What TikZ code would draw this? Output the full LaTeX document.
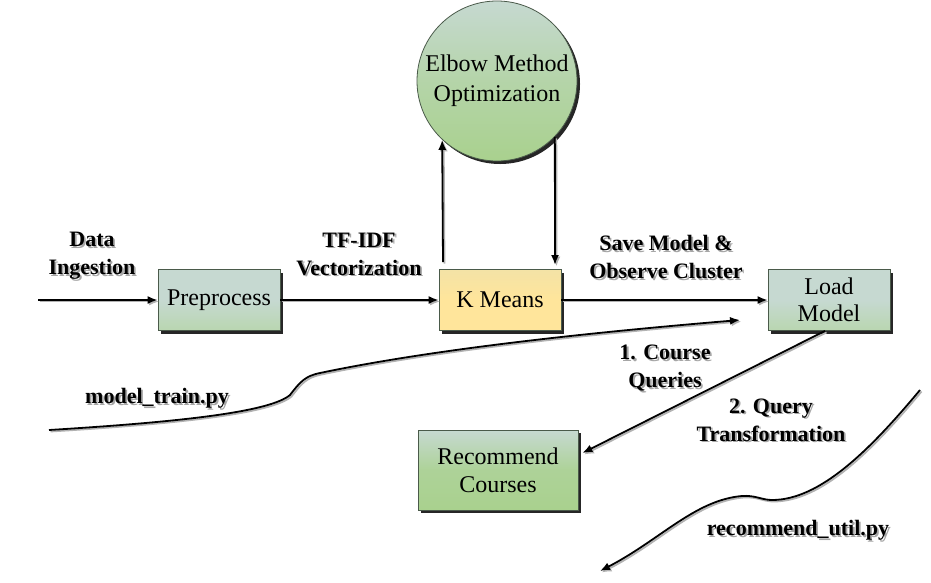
\documentclass[tikz,border=0pt]{standalone}
\usepackage{fontspec}
\setmainfont{Liberation Serif}
\usetikzlibrary{shadows,arrows.meta,shapes.geometric}
\definecolor{boxtop}{HTML}{C6D9D1}
\definecolor{boxbot}{HTML}{B9D6B0}
\definecolor{grn}{HTML}{A9D18E}
\definecolor{yel}{HTML}{FFE59B}
\definecolor{edge}{HTML}{4A5A4A}
\tikzset{
  shad/.style={drop shadow={shadow xshift=3pt,shadow yshift=-3pt,fill=black!85,opacity=1}},
  box/.style={rectangle,draw=edge,line width=0.8pt,minimum width=122pt,minimum height=61pt,
     align=center,font=\fontsize{24}{29}\selectfont,inner sep=2pt,shad},
  lbl/.style={align=center,font=\fontsize{22}{28}\selectfont\bfseries,inner sep=0pt},
  lblsh/.style={lbl,text=black!35},
  lshadow/.style={preaction={draw=black!30,line width=1.8pt,transform canvas={shift={(1.5pt,-1.5pt)}}}},
  arr/.style={line width=1.8pt,-{Latex[length=10pt,width=8pt]},lshadow},
  ln/.style={line width=1.8pt}
}
\newcommand\shlabel[3]{%
  \node[lblsh] at ([shift={(1.8pt,-1.8pt)}]#2) {#3};
  \node[lbl] (#1) at (#2) {#3};}
\begin{document}
\begin{tikzpicture}[x=1pt,y=-1pt]
\path[use as bounding box,fill=white] (0,0) rectangle (931,582);
% nodes
\node[circle,draw=edge,line width=0.8pt,minimum size=160pt,inner sep=0pt,align=center,
  font=\fontsize{24}{30}\selectfont,shad,top color=boxtop,bottom color=grn,middle color=grn!60!boxtop,shading angle=0]
  (elbow) at (497,81) {Elbow Method\\Optimization};
\node[box,top color=boxtop,bottom color=boxbot,middle color=boxtop] (pre) at (219,300) {Preprocess};
\node[box,top color=yel!80!boxtop,bottom color=yel,middle color=yel] (km) at (500,300) {K Means};
\node[box,top color=boxtop,bottom color=boxbot,middle color=boxtop] (lm) at (829,300) {Load\\[-2pt]Model};
\node[box,minimum width=160pt,minimum height=80pt,top color=boxtop,bottom color=grn,middle color=grn!85!boxtop] (rc) at (498,470) {Recommend\\[-1pt]Courses};
% labels
\shlabel{l1}{92,256}{Data\\Ingestion}
\shlabel{l2}{359,254}{TF-IDF\\Vectorization}
\shlabel{l3}{666,257}{Save Model \&\\Observe Cluster}
\shlabel{l4}{157,398}{model\_train.py}
\shlabel{l5}{665,368}{1. Course\\Queries}
\shlabel{l6}{771,420}{2. Query\\Transformation}
\shlabel{l7}{798,530}{recommend\_util.py}
% free end coordinates
\coordinate (din) at (38,300);
\coordinate (kmup) at (443,262);
\coordinate (kmdn) at (555,265);
\coordinate (mt0) at (49,430);
\coordinate (mt1) at (740,320);
\coordinate (ru0) at (920,390);
\coordinate (ru1) at (600,571);
% connectors
\draw[arr] (din) -- (pre.west);
\draw[arr] (pre.east) -- (km.west);
\draw[arr] (km.east) -- (lm.west);
\draw[arr] (kmup) -- (elbow.227.5);
\draw[arr] (elbow.316.5) -- (kmdn);
\draw[arr] ([xshift=-4pt]lm.south) -- ([xshift=4pt,yshift=17pt]rc.east);
\draw[arr] (mt0) .. controls (180,422) and (270,412) .. (290,395)
   .. controls (300,382) and (305,376) .. (320,373)
   .. controls (420,352) and (560,335) .. (mt1);
\draw[arr] (ru0) .. controls (870,450) and (820,500) .. (772,500)
   .. controls (762,500) and (755,495) .. (742,496)
   .. controls (695,500) and (660,540) .. (ru1);
\end{tikzpicture}
\end{document}
